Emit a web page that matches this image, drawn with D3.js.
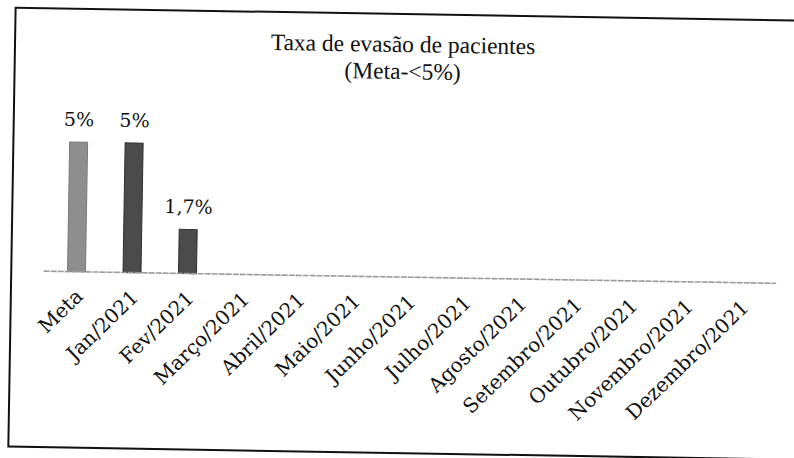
<!DOCTYPE html>
<html>
<head>
<meta charset="utf-8">
<script src="https://cdn.jsdelivr.net/npm/d3@7"></script>
<style>
  html, body { margin: 0; padding: 0; background: #ffffff; }
  svg { display: block; }
</style>
</head>
<body>
<div id="chart"></div>
<script>
// ---- data ----
const categories = ["Meta", "Jan/2021", "Fev/2021", "Março/2021", "Abril/2021", "Maio/2021",
  "Junho/2021", "Julho/2021", "Agosto/2021", "Setembro/2021", "Outubro/2021",
  "Novembro/2021", "Dezembro/2021"];
const values = [5, 5, 1.7, null, null, null, null, null, null, null, null, null, null];
const titleLines = ["Taxa de evasão de pacientes", "(Meta-<5%)"];

// ---- layout ----
const W = 794, H = 458;
const svg = d3.select("#chart").append("svg").attr("width", W).attr("height", H);
svg.append("rect").attr("width", W).attr("height", H).attr("fill", "#fff");

// the scanned page is slightly tilted
const g = svg.append("g").attr("transform", "rotate(0.95, 397, 229)");

// frame (right edge lies outside the picture)
g.append("rect")
  .attr("x", 12).attr("y", 14).attr("width", 820).attr("height", 439)
  .attr("fill", "none").attr("stroke", "#111").attr("stroke-width", 2);

const x = d3.scaleBand().domain(categories).range([49.5, 771])
  .paddingInner(0.676).paddingOuter(0.338);
const y = d3.scaleLinear().domain([0, 5]).range([277, 147.4]);

// title
const title = g.append("text").attr("text-anchor", "middle")
  .attr("font-family", "'Liberation Serif'")
  .attr("font-size", 23.5).attr("fill", "#111");
titleLines.forEach((t, i) => {
  title.append("tspan").attr("x", 400).attr("y", 52 + i * 27).text(t);
});

// bars
const barFill = (d, i) => i === 0 ? "#8e8e8e" : "#4b4b4b";
const data = categories.map((c, i) => ({ c, v: values[i], i })).filter(d => d.v != null);

g.selectAll("rect.bar").data(data).enter().append("rect")
  .attr("class", "bar")
  .attr("x", d => x(d.c))
  .attr("width", x.bandwidth())
  .attr("y", d => y(d.v))
  .attr("height", d => y(0) - y(d.v))
  .attr("fill", d => barFill(d, d.i))
  .attr("stroke", d => d.i === 0 ? "#7a7a7a" : "#2e2e2e")
  .attr("stroke-width", 1);

// value labels
const fmt = v => String(v).replace(".", ",") + "%";
g.selectAll("text.val").data(data).enter().append("text")
  .attr("class", "val")
  .attr("x", d => x(d.c) + x.bandwidth() / 2)
  .attr("y", d => y(d.v) - 16)
  .attr("text-anchor", "middle")
  .attr("font-family", "'DejaVu Serif'")
  .attr("font-size", 19).attr("fill", "#111")
  .text(d => fmt(d.v));

// category axis baseline
const axis = d3.axisBottom(x).tickSize(0).tickPadding(0);
const ax = g.append("g").attr("transform", `translate(0,${y(0)})`).call(axis);
ax.select(".domain").remove();
ax.append("line")
  .attr("x1", x.range()[0] - 5).attr("x2", x.range()[1] + 6)
  .attr("y1", 0).attr("y2", 0)
  .attr("stroke", "#9a9a9a").attr("stroke-width", 1.6)
  .attr("stroke-dasharray", "6,1");
ax.selectAll(".tick text")
  .attr("font-family", "'DejaVu Serif'")
  .attr("font-size", 20).attr("fill", "#111")
  .attr("text-anchor", "end")
  .attr("dy", null)
  .attr("transform", "translate(8,26) rotate(-45)");
</script>
</body>
</html>
